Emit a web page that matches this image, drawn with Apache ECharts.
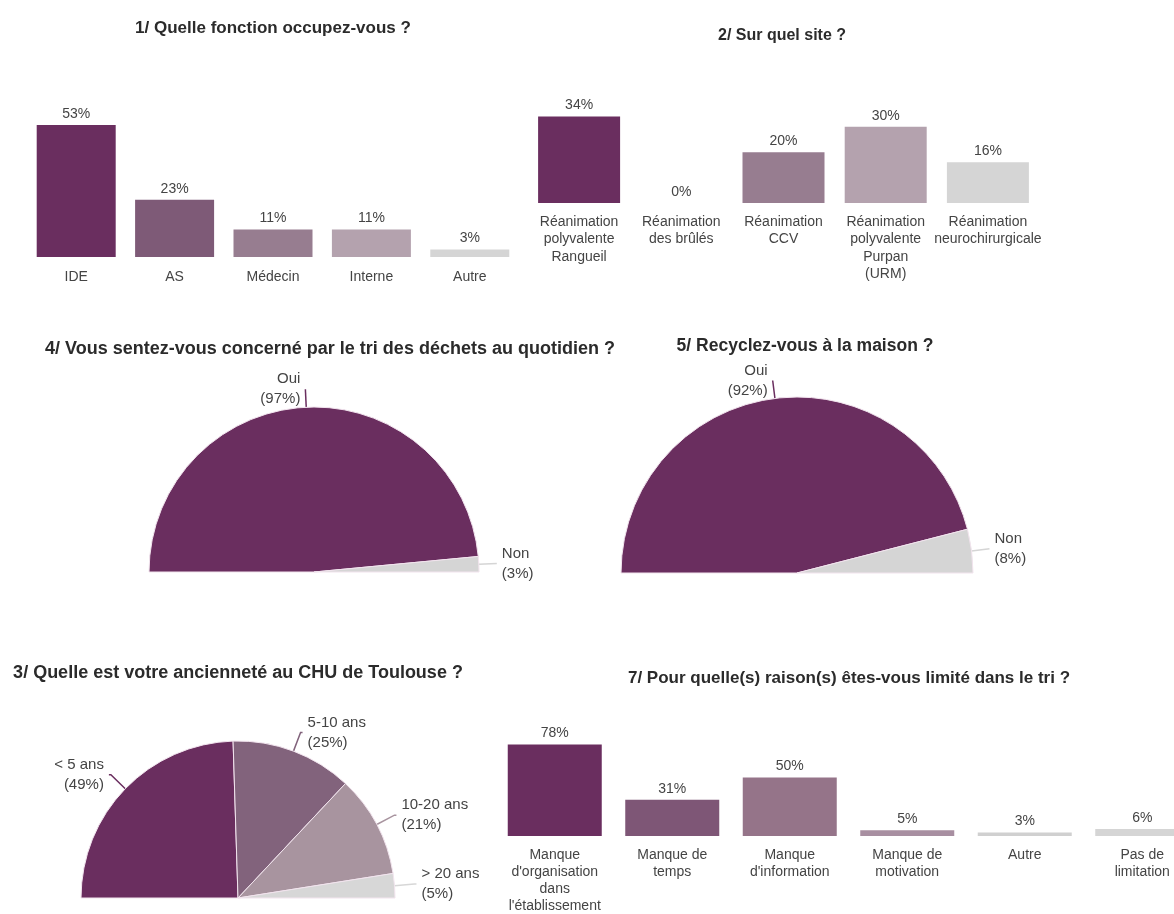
<!DOCTYPE html>
<html>
<head>
<meta charset="utf-8">
<script src="https://cdn.jsdelivr.net/npm/echarts@6/dist/echarts.min.js"></script>
<style>
  html, body { margin: 0; padding: 0; background: #ffffff; }
  #chart { width: 1174px; height: 914px; }
</style>
</head>
<body>
<div id="chart"></div>
<script>
// Q1 – fonction
const q1Categories = ['IDE', 'AS', 'Médecin', 'Interne', 'Autre'];
const q1Values = [53, 23, 11, 11, 3];
// Q2 – site
const q2Categories = ['Réanimation\npolyvalente\nRangueil', 'Réanimation\ndes brûlés', 'Réanimation\nCCV', 'Réanimation\npolyvalente\nPurpan\n(URM)', 'Réanimation\nneurochirurgicale'];
const q2Values = [34, 0, 20, 30, 16];
// Q4 – concerné par le tri
const q4Labels = ['Oui', 'Non'];
const q4Values = [97, 3];
// Q5 – recyclage à la maison
const q5Labels = ['Oui', 'Non'];
const q5Values = [92, 8];
// Q3 – ancienneté
const q3Labels = ['< 5 ans', '5-10 ans', '10-20 ans', '> 20 ans'];
const q3Values = [49, 25, 21, 5];
// Q7 – raisons limitant le tri
const q7Categories = ['Manque\nd\'organisation\ndans\nl\'établissement', 'Manque de\ntemps', 'Manque\nd\'information', 'Manque de\nmotivation', 'Autre', 'Pas de\nlimitation'];
const q7Values = [78, 31, 50, 5, 3, 6];

// colour ramps
const rampBars = ['#6a2e5f', '#7e5a77', '#977d90', '#b4a2ae', '#d5d5d5'];
const rampQ7 = ['#6a2e5f', '#7e5676', '#957489', '#a88fa1', '#d0d0d0', '#d5d5d5'];
const rampYesNo = ['#6a2e5f', '#d5d5d5'];
const rampQ3 = ['#6a2e5f', '#82637c', '#a8949f', '#d7d7d7'];

const FONT = '"Liberation Sans", Arial, sans-serif';
const TEXT = '#444';

function barData(values, colors) {
  return values.map((v, i) => ({ value: v, itemStyle: { color: colors[i] } }));
}
function pieData(labels, values, colors) {
  return labels.map((n, i) => ({ name: n, value: values[i], itemStyle: { color: colors[i] } }));
}
function catAxis(idx, cats, lineH, margin) {
  return {
    type: 'category', gridIndex: idx, data: cats,
    axisLine: { show: false }, axisTick: { show: false },
    axisLabel: { color: TEXT, fontSize: 14, fontFamily: FONT, lineHeight: lineH, margin: margin, interval: 0, verticalAlign: 'top' }
  };
}
function valAxis(idx, max) {
  return { type: 'value', gridIndex: idx, min: 0, max: max, show: false, splitLine: { show: false } };
}
function barSeries(idx, values, colors, width) {
  return {
    type: 'bar', xAxisIndex: idx, yAxisIndex: idx, barWidth: width,
    data: barData(values, colors),
    label: { show: true, position: 'top', distance: 4, formatter: '{c}%', color: TEXT, fontSize: 14, fontFamily: FONT }
  };
}
function semiPie(labels, values, colors, center, radius, len, len2) {
  return {
    type: 'pie', center: center, radius: radius,
    startAngle: 180, endAngle: 0, clockwise: true,
    avoidLabelOverlap: false,
    data: pieData(labels, values, colors),
    itemStyle: { borderColor: '#f2e4ee', borderWidth: 1 },
    label: { formatter: '{b}\n({c}%)', color: TEXT, fontSize: 15, lineHeight: 20, fontFamily: FONT, distanceToLabelLine: 5 },
    labelLine: { length: len, length2: len2, smooth: false, lineStyle: { width: 1.5 } }
  };
}

function titleStyle(size) {
  return { color: '#2b2b2b', fontSize: size, fontWeight: 'bold', fontFamily: FONT };
}

const option = {
  animation: false,
  backgroundColor: '#ffffff',
  title: [
    { text: '1/ Quelle fonction occupez-vous ?', left: 268, top: 15, textAlign: 'center', textStyle: titleStyle(17) },
    { text: '2/ Sur quel site ?', left: 777, top: 23, textAlign: 'center', textStyle: titleStyle(16) },
    { text: '4/ Vous sentez-vous concerné par le tri des déchets au quotidien ?', left: 325, top: 335, textAlign: 'center', textStyle: titleStyle(18) },
    { text: '5/ Recyclez-vous à la maison ?', left: 800, top: 332, textAlign: 'center', textStyle: titleStyle(17.5) },
    { text: '3/ Quelle est votre ancienneté au CHU de Toulouse ?', left: 233, top: 659, textAlign: 'center', textStyle: titleStyle(18) },
    { text: '7/ Pour quelle(s) raison(s) êtes-vous limité dans le tri ?', left: 844, top: 665, textAlign: 'center', textStyle: titleStyle(17) }
  ],
  grid: [
    { left: 27, top: 100, width: 492, height: 157, outerBoundsMode: 'none' },
    { left: 528, top: 100, width: 511, height: 103, outerBoundsMode: 'none' },
    { left: 496, top: 720, width: 705, height: 116, outerBoundsMode: 'none' }
  ],
  xAxis: [
    catAxis(0, q1Categories, 17, 12),
    catAxis(1, q2Categories, 17.5, 10),
    catAxis(2, q7Categories, 17, 11)
  ],
  yAxis: [ valAxis(0, 63), valAxis(1, 40.5), valAxis(2, 99) ],
  series: [
    barSeries(0, q1Values, rampBars, 79),
    barSeries(1, q2Values, rampBars, 82),
    barSeries(2, q7Values, rampQ7, 94),
    semiPie(q4Labels, q4Values, rampYesNo, [314, 572], 165, 18, 0),
    semiPie(q5Labels, q5Values, rampYesNo, [797, 573], 176, 18, 0),
    semiPie(q3Labels, q3Values, rampQ3, [238, 898], 157, 20, 2)
  ]
};

const chart = echarts.init(document.getElementById('chart'), null, { renderer: 'canvas' });
chart.setOption(option);
</script>
</body>
</html>
